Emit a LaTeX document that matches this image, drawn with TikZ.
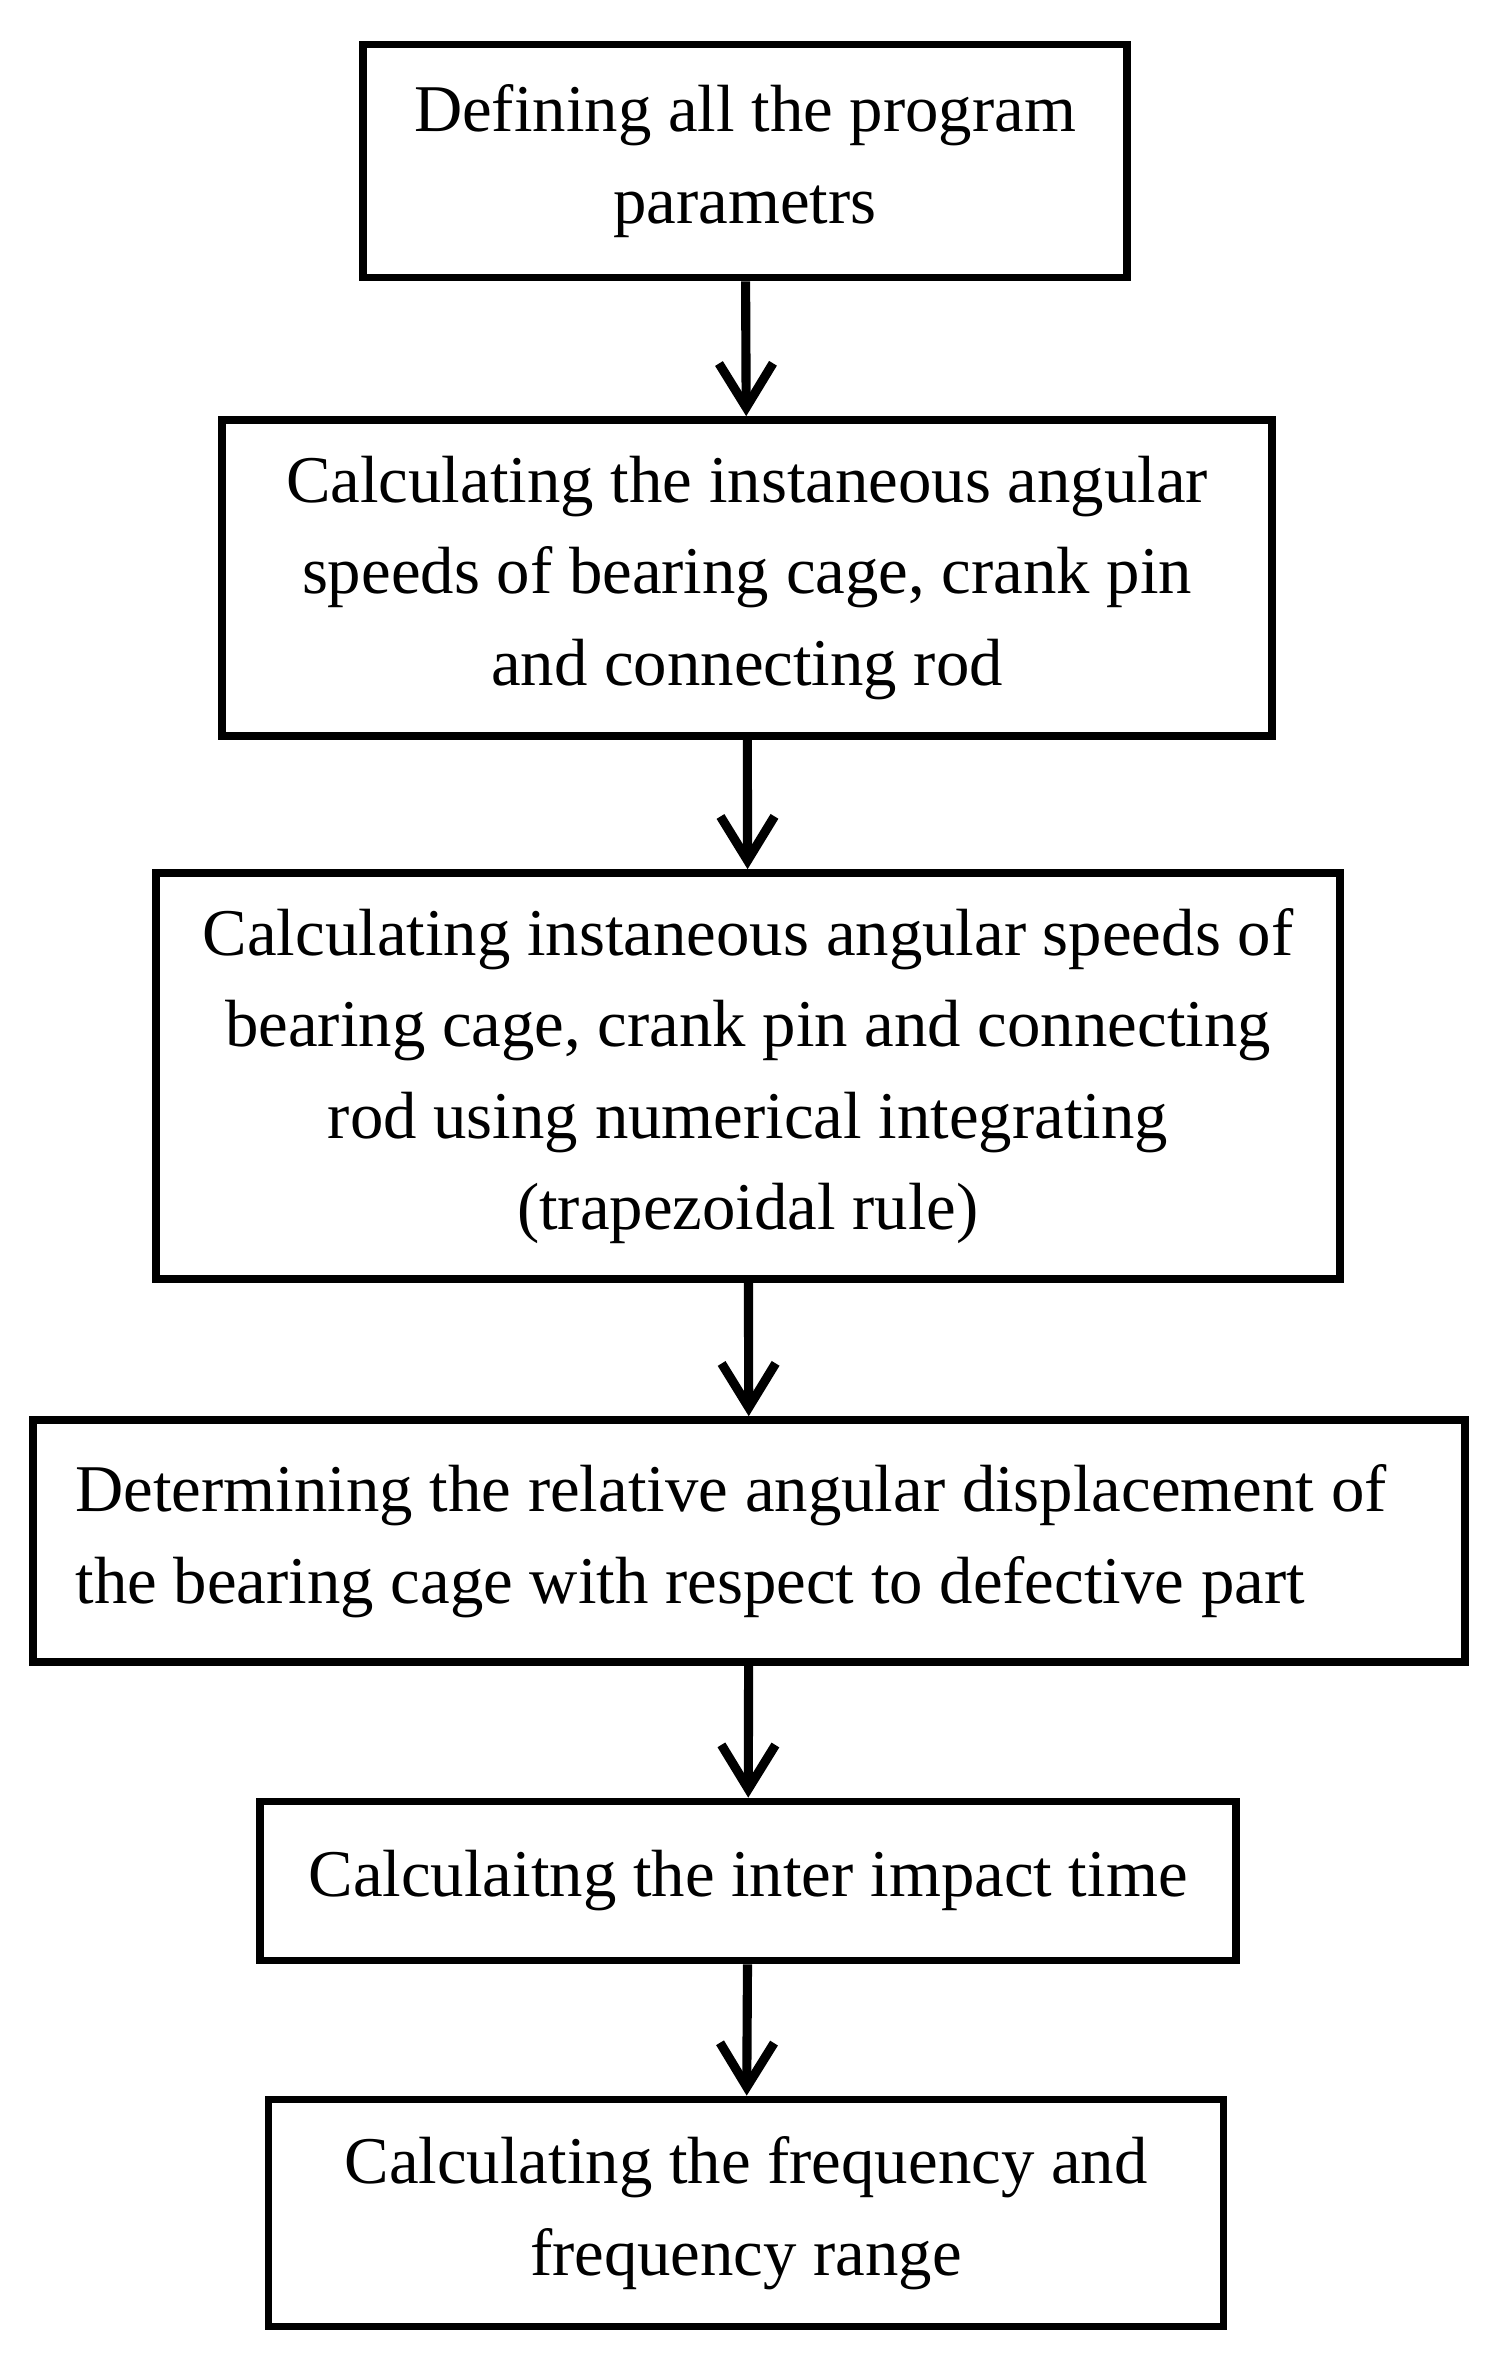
\documentclass[tikz,border=0pt]{standalone}
\usepackage{fontspec}
\setmainfont{Liberation Serif}
\usepackage{tikz}
\usetikzlibrary{arrows.meta,positioning}

\begin{document}
\begin{tikzpicture}[>={Straight Barb[length=4.4mm,width=5.4mm]},
  stepbox/.style={draw,line width=2.2pt,inner sep=0pt,align=center,
    font=\fontsize{19}{26}\selectfont},
  flow/.style={->,line width=2.6pt}]
  \useasboundingbox (0,0) rectangle (14.97,-23.69);
  % the six steps, top to bottom
  \node[stepbox,minimum width=7.64cm,minimum height=2.33cm] (params) at (7.45,-1.61)
    {Defining all the program\\parametrs};
  \node[stepbox,minimum width=10.50cm,minimum height=3.16cm] (speeds) at (7.47,-5.78)
    {Calculating the instaneous angular\\speeds of bearing cage, crank pin\\and connecting rod};
  \node[stepbox,minimum width=11.84cm,minimum height=4.06cm] (integr) at (7.48,-10.76)
    {Calculating instaneous angular speeds of\\bearing cage, crank pin and connecting\\rod using numerical integrating\\(trapezoidal rule)};
  \node[stepbox,align=left,minimum width=14.32cm,minimum height=2.42cm] (displ) at (7.49,-15.41)
    {Determining the relative angular displacement of\hspace*{0.36cm}\\the bearing cage with respect to defective part};
  \node[stepbox,minimum width=9.76cm,minimum height=1.59cm] (impact) at (7.48,-18.81)
    {Calculaitng the inter impact time};
  \node[stepbox,minimum width=9.55cm,minimum height=2.27cm] (freq) at (7.46,-22.13)
    {Calculating the frequency and\\frequency range};
  % connectors
  \draw[flow] (params) -- (speeds);
  \draw[flow] (speeds) -- (integr);
  \draw[flow] (integr) -- (displ);
  \draw[flow] (displ) -- (impact);
  \draw[flow] (impact) -- (freq);
\end{tikzpicture}
\end{document}
